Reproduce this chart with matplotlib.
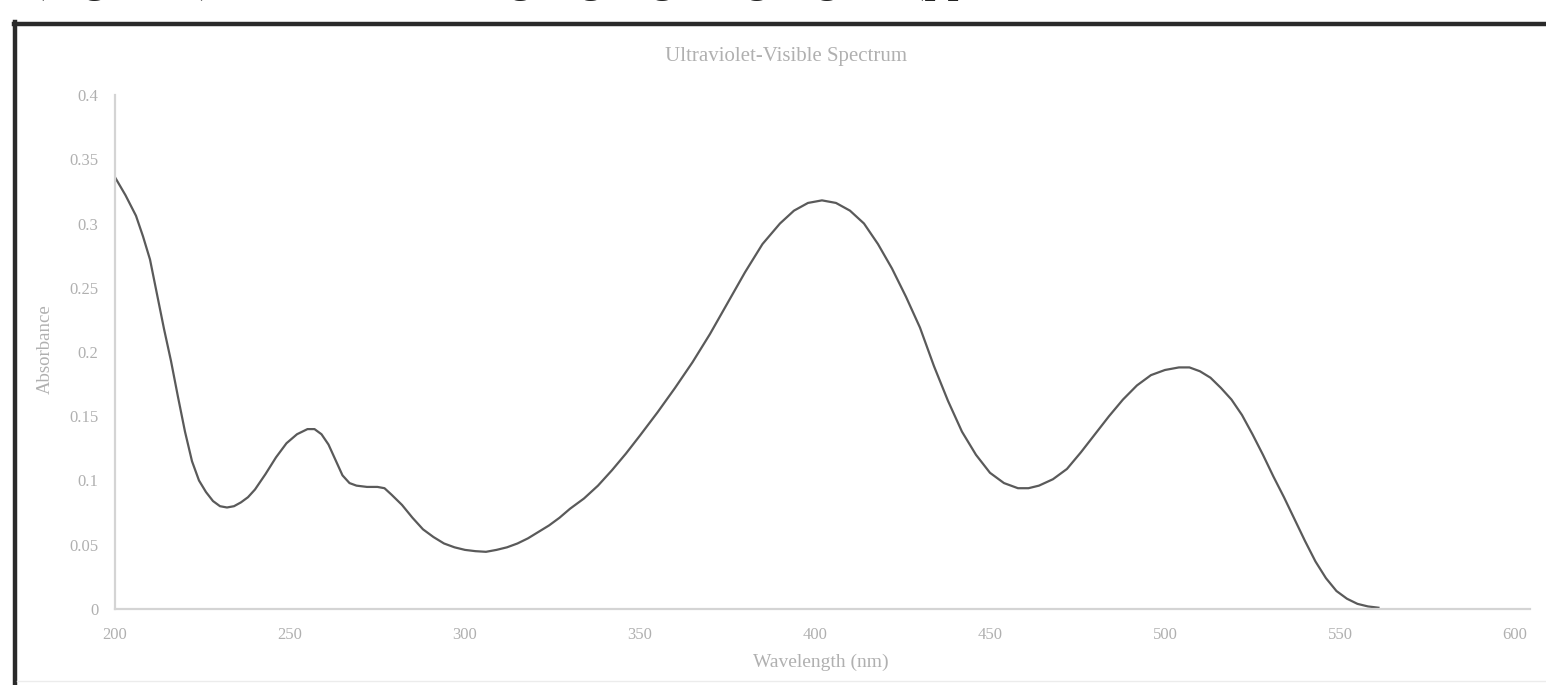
import matplotlib
matplotlib.use("Agg")
import matplotlib.pyplot as plt
from matplotlib.lines import Line2D

wavelength = [200, 203, 206, 208, 210, 212, 214, 216, 218, 220, 222, 224, 226, 228, 230,
              232, 234, 236, 238, 240, 243, 246, 249, 252, 255, 257, 259, 261, 263, 265,
              267, 269, 272, 275, 277, 279, 282, 285, 288, 291, 294, 297, 300, 303, 306,
              309, 312, 315, 318, 321, 324, 327, 330, 334, 338, 342, 346, 350, 355, 360,
              365, 370, 375, 380, 385, 390, 394, 398, 402, 406, 410, 414, 418, 422, 426,
              430, 434, 438, 442, 446, 450, 454, 458, 461, 464, 468, 472, 476, 480, 484,
              488, 492, 496, 500, 504, 507, 510, 513, 516, 519, 522, 525, 528, 531, 534,
              537, 540, 543, 546, 549, 552, 555, 558, 561]
absorbance = [0.336, 0.322, 0.306, 0.290, 0.272, 0.245, 0.218, 0.193, 0.165, 0.138, 0.115,
              0.100, 0.091, 0.084, 0.080, 0.079, 0.080, 0.083, 0.087, 0.093, 0.105, 0.118,
              0.129, 0.136, 0.140, 0.140, 0.136, 0.128, 0.116, 0.104, 0.098, 0.096, 0.095,
              0.095, 0.094, 0.089, 0.081, 0.071, 0.062, 0.056, 0.051, 0.048, 0.046, 0.045,
              0.0445, 0.046, 0.048, 0.051, 0.055, 0.060, 0.065, 0.071, 0.078, 0.086, 0.096,
              0.108, 0.121, 0.135, 0.153, 0.172, 0.192, 0.214, 0.238, 0.262, 0.284, 0.300,
              0.310, 0.316, 0.318, 0.316, 0.310, 0.300, 0.284, 0.265, 0.243, 0.219, 0.189,
              0.162, 0.138, 0.120, 0.106, 0.098, 0.094, 0.094, 0.096, 0.101, 0.109, 0.122,
              0.136, 0.150, 0.163, 0.174, 0.182, 0.186, 0.188, 0.188, 0.185, 0.180, 0.172,
              0.163, 0.151, 0.136, 0.120, 0.103, 0.087, 0.070, 0.053, 0.037, 0.024, 0.014,
              0.008, 0.004, 0.002, 0.001]

x_ticks = [200, 250, 300, 350, 400, 450, 500, 550, 600]
y_ticks = [0, 0.05, 0.1, 0.15, 0.2, 0.25, 0.3, 0.35, 0.4]
y_tick_labels = ["0", "0.05", "0.1", "0.15", "0.2", "0.25", "0.3", "0.35", "0.4"]

title = "Ultraviolet-Visible Spectrum"
x_label = "Wavelength (nm)"
y_label = "Absorbance"
header_text = "(Figure 2) and the resulting highlighting region (pp. 12, 2009; Brown, 2014; Lee, 2019)"

W, H = 1546, 685
fig = plt.figure(figsize=(W / 100, H / 100), dpi=100)
fig.patch.set_facecolor("white")

serif = ["Liberation Serif", "DejaVu Serif"]
txt_col = "#b0b0b0"

# axes placement (pixel based)
left_px, right_px, top_px, bottom_px = 115, 1530, 95, 609
ax = fig.add_axes([left_px / W, 1 - bottom_px / H, (right_px - left_px) / W, (bottom_px - top_px) / H])
ax.plot(wavelength, absorbance, color="#5a5a5a", lw=1.6)
ax.set_xlim(200, 604.3)
ax.set_ylim(0, 0.4)
ax.set_xticks(x_ticks)
ax.set_xticklabels([str(t) for t in x_ticks])
ax.set_yticks(y_ticks)
ax.set_yticklabels(y_tick_labels)
for s in ["top", "right"]:
    ax.spines[s].set_visible(False)
for s in ["left", "bottom"]:
    ax.spines[s].set_color("#d4d4d4")
    ax.spines[s].set_linewidth(1.6)
ax.tick_params(axis="both", length=0, colors=txt_col, labelsize=12)
ax.tick_params(axis="y", pad=12)
ax.tick_params(axis="x", pad=13)
for lab in ax.get_xticklabels() + ax.get_yticklabels():
    lab.set_family(serif)

fig.text(786 / W, 1 - 57 / H, title, ha="center", va="center", color=txt_col,
         fontsize=15, family=serif)
fig.text(821 / W, 1 - 662 / H, x_label, ha="center", va="center", color=txt_col,
         fontsize=14, family=serif)
fig.text(45 / W, 1 - 349 / H, y_label, ha="center", va="center", rotation=90,
         color=txt_col, fontsize=13.5, family=serif)

# document text above the figure: only its descenders show, as on the scanned page
fig.text(30 / W, 1 + 9 / H, header_text, ha="left", va="baseline", color="#222222",
         fontsize=33, family=serif)

# frame of the pasted figure
fig.add_artist(Line2D([15 / W, 15 / W], [0, 1 - 22 / H], transform=fig.transFigure,
                      color="#2a2a2a", lw=3.2))
fig.add_artist(Line2D([13.5 / W, 1], [1 - 24 / H, 1 - 24 / H], transform=fig.transFigure,
                      color="#2a2a2a", lw=3.2))
fig.add_artist(Line2D([17 / W, 1], [1 - 681 / H, 1 - 681 / H], transform=fig.transFigure,
                      color="#ececec", lw=1.0))

fig.savefig("out.png", dpi=100)
